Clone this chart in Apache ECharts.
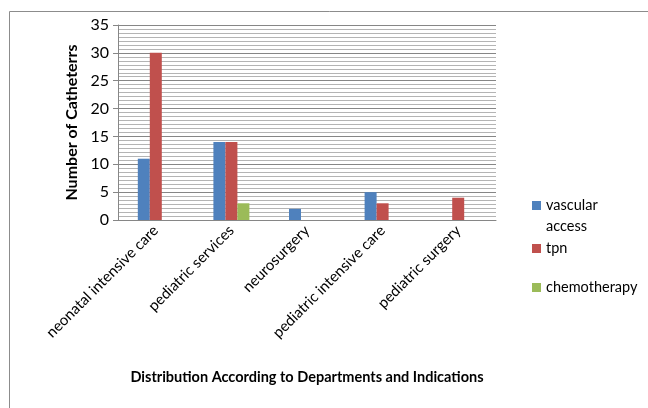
<!DOCTYPE html>
<html><head><meta charset="utf-8">
<script src="https://cdn.jsdelivr.net/npm/echarts@6/dist/echarts.min.js"></script>
<style>html,body{margin:0;padding:0;background:#fff}#c{width:648px;height:408px}</style>
</head><body><div id="c"></div>
<script>
var categories = ['neonatal intensive care','pediatric services','neurosurgery','pediatric intensive care','pediatric surgery'];
var vascularAccess = [11, 14, 2, 5, 0];
var tpn = [30, 14, 0, 3, 4];
var chemotherapy = [0, 3, 0, 0, 0];
var seriesNames = ['vascular access','tpn','chemotherapy'];
var colors = ['#4F81BD','#C0504D','#9BBB59'];
var font = 'Lato, "Liberation Sans", sans-serif';

var chart = echarts.init(document.getElementById('c'));
function legendFor(name, top, fmt, icon, h){
  return {data:[name], orient:'vertical', left:527, top:top, itemWidth:9, itemHeight:h || 9, itemGap:0,
    icon: icon || 'rect', selectedMode:false, formatter: fmt || '{name}',
    textStyle:{fontFamily:font, fontSize:14.5, color:'#000', lineHeight:21}};
}
chart.setOption({
  animation:false,
  color: colors,
  graphic:[{type:'rect', shape:{x:9.5,y:11.5,width:700,height:500}, style:{fill:'none', stroke:'#8c8c8c', lineWidth:1}}],
  legend:[
    legendFor('vascular access', 190, 'vascular\naccess', 'path://M0,0H9V9H0Z M0,29.9L0,30', 30),
    legendFor('tpn', 233),
    legendFor('chemotherapy', 272)
  ],
  grid:{left:118, right:152, top:25, bottom:188},
  xAxis:{type:'category', data:categories,
    axisLine:{lineStyle:{color:'#868686'}}, axisTick:{show:false},
    axisLabel:{rotate:45, interval:0, fontFamily:font, fontSize:15, color:'#000', margin:8},
    name:'Distribution According to Departments and Indications', nameLocation:'middle', nameGap:150,
    nameTextStyle:{fontFamily:font, fontSize:14.5, fontWeight:'bold', color:'#000'}
  },
  yAxis:{type:'value', min:0, max:35, interval:5,
    axisLine:{show:true, lineStyle:{color:'#868686'}}, axisTick:{show:true, length:5, lineStyle:{color:'#868686'}},
    axisLabel:{fontFamily:font, fontSize:16, color:'#000', margin:9},
    splitLine:{lineStyle:{color:'#868686', width:1}},
    minorTick:{show:false, splitNumber:7},
    minorSplitLine:{show:true, lineStyle:{color:'#b4b4b4', width:1}},
    name:'Number of Catheterrs', nameLocation:'middle', nameGap:36,
    nameTextStyle:{fontFamily:font, fontSize:16, fontWeight:'bold', color:'#000'}
  },
  series:[
    {name:seriesNames[0], type:'bar', data:vascularAccess, barWidth:12, barGap:'0%'},
    {name:seriesNames[1], type:'bar', data:tpn, barWidth:12, barGap:'0%'},
    {name:seriesNames[2], type:'bar', data:chemotherapy, barWidth:12, barGap:'0%'}
  ]
});
</script></body></html>
